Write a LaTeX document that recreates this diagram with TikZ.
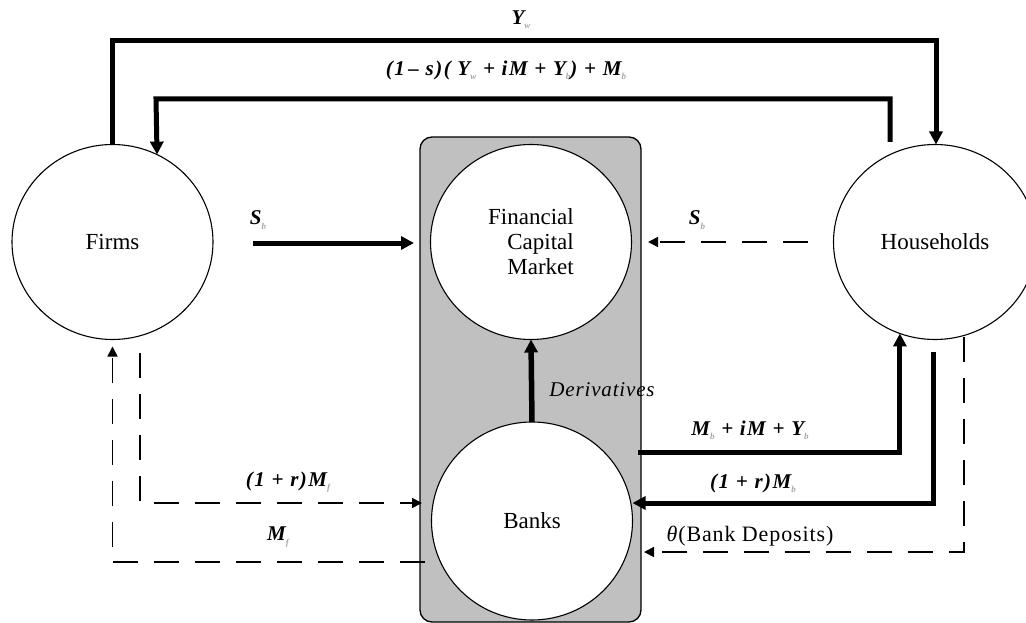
\documentclass[tikz,border=0pt]{standalone}
\usepackage{fontspec}
\setmainfont{Liberation Serif}
\newfontfamily\labfont[LetterSpace=7]{Liberation Serif}
\newfontfamily\derfont[LetterSpace=4]{Liberation Serif}
\newfontfamily\thfont[LetterSpace=4]{Liberation Serif}
\usetikzlibrary{arrows.meta,shapes.geometric,calc}
\definecolor{boxgray}{HTML}{C0C0C0}
\newcommand{\lsub}[1]{\raisebox{-0.45ex}{\fontsize{9}{9}\selectfont\color{black!35}#1}}
\tikzset{
 sector/.style={ellipse,draw,line width=1.1pt,fill=white,inner sep=0pt,outer sep=0pt,
   minimum width=201pt,minimum height=195pt,font=\fontsize{23}{25}\selectfont,align=center},
 flow/.style={line width=5pt,-{Triangle[length=13pt,width=13pt]}},
 dflow/.style={line width=1.6pt,dash pattern=on 25pt off 16pt,-{Triangle[length=10pt,width=10pt]}},
 lab/.style={font=\labfont\fontsize{21}{23}\selectfont\bfseries\itshape,inner sep=0pt},
 plainlab/.style={font=\thfont\fontsize{22}{24}\selectfont,inner sep=0pt},
}
\begin{document}
\begin{tikzpicture}[x=1pt,y=-1pt]
\useasboundingbox (0,0) rectangle (1026,623);
\clip (0,0) rectangle (1026,623);
% gray container
\node[draw,line width=1.3pt,fill=boxgray,rounded corners=12pt,minimum width=221pt,minimum height=485pt,inner sep=0pt,outer sep=0pt] (box) at (530.5,379.5) {};
% sectors
\node[sector] (firms) at (112.5,242) {Firms};
\node[sector,minimum width=203pt] (house) at (935,242) {Households};
\node[sector,align=right] (fcm) at (531,242) {Financial\\Capital\\Market};
\node[sector,minimum height=198pt] (banks) at (532,521) {Banks};

% Y_w
\coordinate (yw1) at (112.5,41);
\coordinate (yw2) at (936,41);
\draw[flow] (firms.north) -- (yw1) -- (yw2) -- (yw2 |- house.north);
\node[lab] (lyw) at (521,20) {Y\lsub{w}};

% (1-s)(...)
\coordinate (s1) at (890,142);
\coordinate (s2) at (890,99);
\coordinate (s3) at (156,99);
\draw[flow] (s1) -- (s2) -- (s3) -- (firms.63.5);
\node[lab] (lcons) at (506,70) {(1\,– s)( Y\lsub{w} + iM + Y\lsub{b}) + M\lsub{b}};

% S_b from firms
\coordinate (sbl) at (253,243);
\draw[flow,shorten >=6pt] (sbl) -- (sbl -| box.west);
\node[lab] (lsbl) at (258,220) {S\lsub{b}};

% S_b from households (dashed)
\coordinate (sbr) at (808,242);
\draw[dflow,shorten >=7pt] (sbr) -- (sbr -| box.east);
\node[lab] (lsbr) at (697,220) {S\lsub{b}};

% Derivatives
\draw[flow,line width=5.5pt] (banks.north) -- (fcm.south);
\node[font=\derfont\fontsize{21}{23}\selectfont\itshape,inner sep=0pt] (lder) at (602,390) {Derivatives};

% M_f : banks -> firms (dashed)
\coordinate (mf0) at (425,562);
\draw[dflow,shorten >=7pt] (mf0) -| (firms.south);
\node[lab] (lmf) at (278,537) {M\lsub{f}};

% (1+r)M_f : firms -> banks (dashed)
\coordinate (rf0) at (140,353);
\coordinate (rf1) at (140,503);
\draw[dflow,shorten >=-2pt] (rf0) -- (rf1) -- (rf1 -| box.west);
\node[lab] (lrf) at (288,482) {(1 + r)M\lsub{f}};

% M_b + iM + Y_b : banks -> households
\coordinate (mb0) at (638,452);
\draw[flow] (mb0) -| (house.249);
\node[lab] (lmb) at (750,430) {M\lsub{b} + iM + Y\lsub{b}};

% (1+r)M_b : households -> banks
\coordinate (rb0) at (933,352);
\coordinate (rb1) at (933,503);
\draw[flow] (rb0) -- (rb1) -- (rb1 -| banks.east);
\node[lab] (lrb) at (753,483) {(1 + r)M\lsub{b}};

% theta (Bank Deposits) : households -> banks (dashed)
\coordinate (th0) at (964,337);
\coordinate (th1) at (964,552);
\draw[dflow,shorten >=3pt] (th0) -- (th1) -- (th1 -| box.east);
\node[plainlab] (lth) at (750,536) {\textit{θ}(Bank Deposits)};
\end{tikzpicture}
\end{document}
